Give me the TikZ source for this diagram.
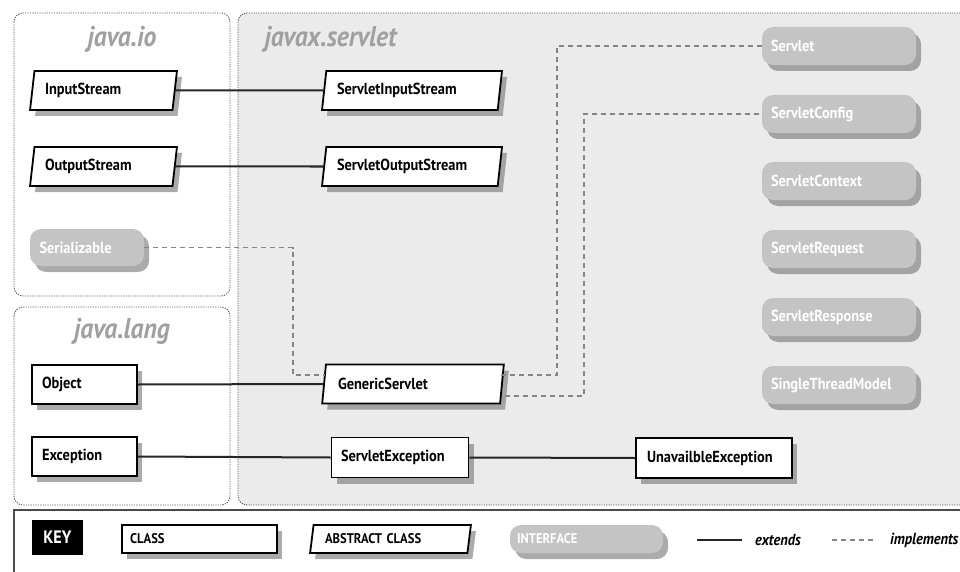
\documentclass[tikz,border=0pt]{standalone}
\usepackage{fontspec}
\setmainfont{PT Sans}[FakeStretch=0.9]
\usetikzlibrary{shapes.geometric,shadows}
\definecolor{pkgfill}{HTML}{EBEBEB}
\definecolor{ifill}{HTML}{C4C4C4}
\definecolor{ttl}{HTML}{A0A0A0}
\definecolor{dashc}{HTML}{858585}
\begin{document}
\begin{tikzpicture}[x=1pt,y=-1pt,
  shd/.style={drop shadow={shadow xshift=5pt,shadow yshift=-6pt,fill=black!55,opacity=0.6}},
  nfont/.style={font=\bfseries\fontsize{16}{18}\selectfont},
  cls/.style={rectangle,draw=black,line width=1.8pt,fill=white,shd,nfont,align=left,minimum height=39pt,inner xsep=0pt},
  abscls/.style={trapezium,trapezium left angle=80,trapezium right angle=100,trapezium stretches=true,
    draw=black,line width=1.8pt,fill=white,shd,nfont,align=left,minimum height=39pt,inner xsep=0pt},
  iface/.style={rectangle,rounded corners=11pt,fill=ifill,text=white,shd,nfont,align=left,minimum height=38pt,inner xsep=0pt},
  pkg/.style={draw=black!65,line width=0.9pt,dash pattern=on 1.2pt off 1.2pt,rounded corners=9pt},
  ttlfont/.style={font=\bfseries\itshape\fontsize{28.5}{30}\selectfont,text=ttl},
  ext/.style={draw=black!85,line width=2pt},
  impl/.style={draw=dashc,line width=1.4pt,dash pattern=on 5pt off 4pt},
  kfont/.style={font=\bfseries\fontsize{14}{16}\selectfont},
  kifont/.style={font=\bfseries\itshape\fontsize{16}{18}\selectfont}
]
\useasboundingbox (0,0) rectangle (960,572);
\clip (0,0) rectangle (960,572);

% packages
\draw[pkg,fill=pkgfill] (238,13) rectangle (990,505);
\draw[pkg] (14,13) rectangle (230,296);
\draw[pkg] (14,307) rectangle (230,505);
\node[ttlfont] (tio) at (122,39) {java.io};
\node[ttlfont] (tlang) at (122,331) {java.lang};
\node[ttlfont,anchor=west] (tsv) at (261,39) {javax.servlet};

% nodes
\node[abscls,minimum width=147pt,text width=117pt] (ins) at (103.5,90.5) {InputStream};
\node[abscls,minimum width=147pt,text width=117pt] (outs) at (103.5,166.5) {OutputStream};
\node[iface,minimum width=114pt,text width=95pt,minimum height=37pt] (ser) at (87,247.5) {Serializable};
\node[abscls,minimum width=180pt,text width=150pt] (sis) at (412,90.5) {ServletInputStream};
\node[abscls,minimum width=180pt,text width=150pt] (sos) at (412,166.5) {ServletOutputStream};
\node[cls,minimum width=105pt,text width=85pt] (obj) at (84.5,384.5) {Object};
\node[cls,minimum width=105pt,text width=85pt] (exc) at (84.5,456.5) {Exception};
\node[abscls,minimum width=182pt,text width=150pt] (gs) at (413,384) {GenericServlet};
\node[cls,minimum width=137pt,text width=118pt,minimum height=40pt] (sex) at (400,457.5) {ServletException};
\node[cls,minimum width=156pt,text width=134pt,minimum height=40pt] (uex) at (714,458) {UnavailbleException};

\node[iface,minimum width=154pt,text width=136pt] (sv) at (839,46) {Servlet};
\node[iface,minimum width=154pt,text width=136pt] (scf) at (839,114) {ServletConfig};
\node[iface,minimum width=154pt,text width=136pt] (sctx) at (839,181) {ServletContext};
\node[iface,minimum width=154pt,text width=136pt] (sreq) at (839,249) {ServletRequest};
\node[iface,minimum width=154pt,text width=136pt] (sres) at (839,317) {ServletResponse};
\node[iface,minimum width=154pt,text width=136pt] (stm) at (839,385) {SingleThreadModel};

% routing coordinates
\coordinate (j1) at (293,0);
\coordinate (j2) at (557,0);
\coordinate (j3) at (584,0);

% extends
\draw[ext] (ins.east) -- (sis.west);
\draw[ext] (outs.east) -- (sos.west);
\draw[ext] (obj.east) -- (gs.west);
\draw[ext] (exc.east) -- (sex.west);
\draw[ext] (sex.east) -- (uex.west);

% implements
\draw[impl] (ser.east) -- (ser.east -| j1) |- ([yshift=9pt,xshift=1.5pt]gs.west);
\draw[impl] ([yshift=9pt,xshift=-1.5pt]gs.east) -| (sv.west -| j2) -- (sv.west);
\draw[impl] ([yshift=-12pt,xshift=2pt]gs.east) -| (scf.west -| j3) -- (scf.west);

% key
\draw[draw=black!70,line width=1.5pt] (14,590) -- (14,510) -- (990,510);
\node[rectangle,fill=black,text=white,font=\bfseries\fontsize{18}{20}\selectfont,minimum width=51pt,minimum height=35pt,inner sep=0pt] (key) at (57.5,537.5) {KEY};
\node[cls,kfont,minimum width=155pt,text width=139pt,minimum height=28pt] (kcls) at (199.5,539) {CLASS};
\node[abscls,kfont,minimum width=161pt,text width=131pt,minimum height=28pt] (kabs) at (390.5,539) {ABSTRACT CLASS};
\node[iface,kfont,minimum width=153pt,text width=139pt,minimum height=28pt] (kif) at (586.5,539) {INTERFACE};
\coordinate (ke1) at (697,540);
\coordinate (ke2) at (742,540);
\draw[ext] (ke1) -- (ke2);
\node[kifont,anchor=west,inner sep=0pt] (kext) at (755,540) {extends};
\coordinate (ki1) at (832,540);
\coordinate (ki2) at (877,540);
\draw[impl] (ki1) -- (ki2);
\node[kifont,anchor=west,inner sep=0pt] (kimp) at (890,540) {implements};
\end{tikzpicture}
\end{document}
